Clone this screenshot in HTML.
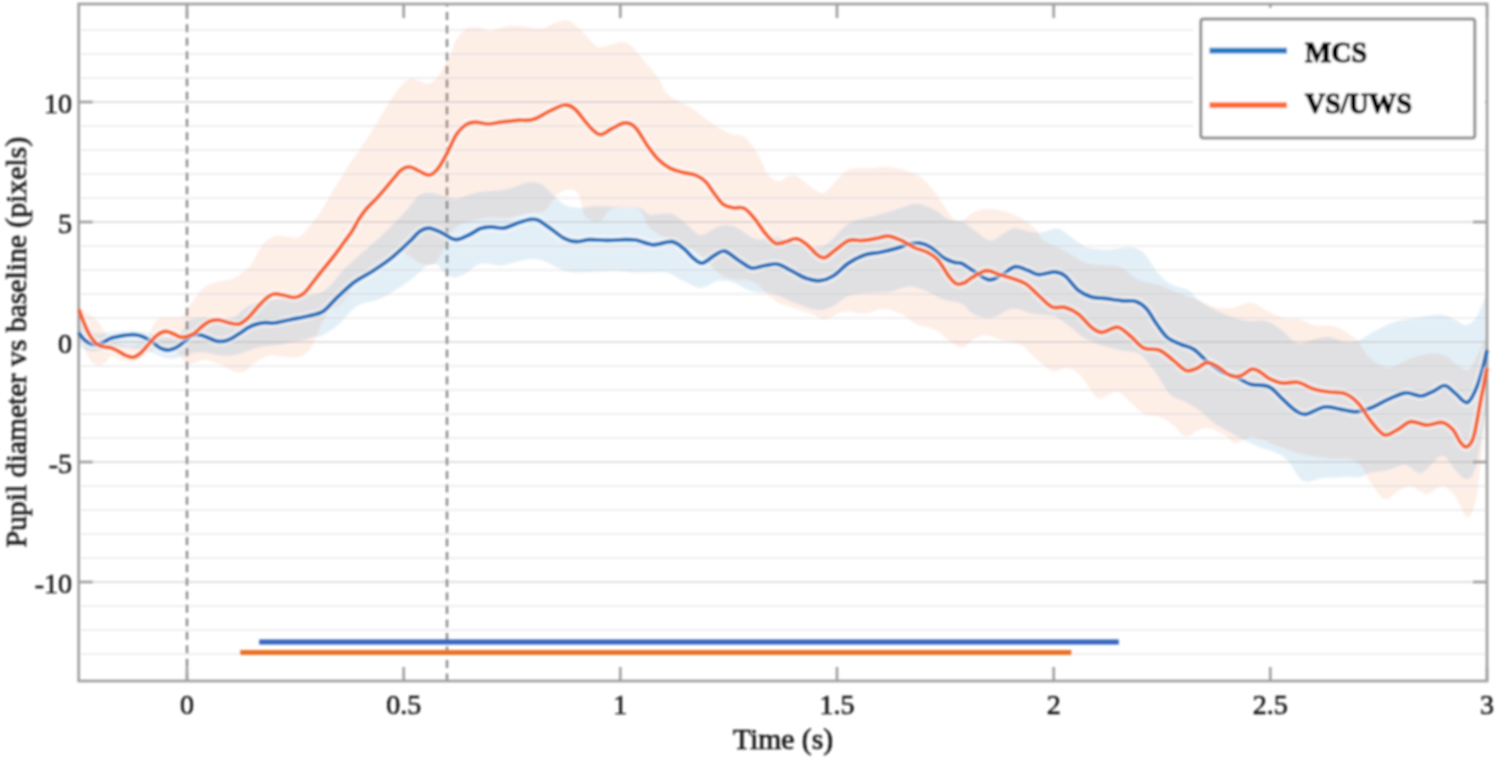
<!DOCTYPE html>
<html><head><meta charset="utf-8"><style>
html,body{margin:0;padding:0;background:#fff;}
svg{display:block;}
text{font-family:"Liberation Serif",serif;}
</style></head><body>
<svg width="1498" height="761" viewBox="0 0 1498 761">
<defs>
<clipPath id="ax2"><rect x="80.2" y="5.5" width="1405.3" height="674"/></clipPath>
<clipPath id="ax"><rect x="78.7" y="4" width="1408.3" height="677"/></clipPath>
<filter id="bl" x="-5%" y="-5%" width="110%" height="110%"><feGaussianBlur stdDeviation="0.85"/></filter>
</defs>
<rect width="1498" height="761" fill="#fff"/>
<g filter="url(#bl)">
<g><line x1="78.7" x2="1487" y1="654" y2="654" stroke="#eaeaea" stroke-width="1.6"/>
<line x1="78.7" x2="1487" y1="630" y2="630" stroke="#eaeaea" stroke-width="1.6"/>
<line x1="78.7" x2="1487" y1="606" y2="606" stroke="#eaeaea" stroke-width="1.6"/>
<line x1="78.7" x2="1487" y1="582" y2="582" stroke="#d6d6d6" stroke-width="1.7"/>
<line x1="78.7" x2="1487" y1="558" y2="558" stroke="#eaeaea" stroke-width="1.6"/>
<line x1="78.7" x2="1487" y1="534" y2="534" stroke="#eaeaea" stroke-width="1.6"/>
<line x1="78.7" x2="1487" y1="510" y2="510" stroke="#eaeaea" stroke-width="1.6"/>
<line x1="78.7" x2="1487" y1="486" y2="486" stroke="#eaeaea" stroke-width="1.6"/>
<line x1="78.7" x2="1487" y1="462" y2="462" stroke="#d6d6d6" stroke-width="1.7"/>
<line x1="78.7" x2="1487" y1="438" y2="438" stroke="#eaeaea" stroke-width="1.6"/>
<line x1="78.7" x2="1487" y1="414" y2="414" stroke="#eaeaea" stroke-width="1.6"/>
<line x1="78.7" x2="1487" y1="390" y2="390" stroke="#eaeaea" stroke-width="1.6"/>
<line x1="78.7" x2="1487" y1="366" y2="366" stroke="#eaeaea" stroke-width="1.6"/>
<line x1="78.7" x2="1487" y1="342" y2="342" stroke="#d6d6d6" stroke-width="1.7"/>
<line x1="78.7" x2="1487" y1="318" y2="318" stroke="#eaeaea" stroke-width="1.6"/>
<line x1="78.7" x2="1487" y1="294" y2="294" stroke="#eaeaea" stroke-width="1.6"/>
<line x1="78.7" x2="1487" y1="270" y2="270" stroke="#eaeaea" stroke-width="1.6"/>
<line x1="78.7" x2="1487" y1="246" y2="246" stroke="#eaeaea" stroke-width="1.6"/>
<line x1="78.7" x2="1487" y1="222" y2="222" stroke="#d6d6d6" stroke-width="1.7"/>
<line x1="78.7" x2="1487" y1="198" y2="198" stroke="#eaeaea" stroke-width="1.6"/>
<line x1="78.7" x2="1487" y1="174" y2="174" stroke="#eaeaea" stroke-width="1.6"/>
<line x1="78.7" x2="1487" y1="150" y2="150" stroke="#eaeaea" stroke-width="1.6"/>
<line x1="78.7" x2="1487" y1="126" y2="126" stroke="#eaeaea" stroke-width="1.6"/>
<line x1="78.7" x2="1487" y1="102" y2="102" stroke="#d6d6d6" stroke-width="1.7"/>
<line x1="78.7" x2="1487" y1="78" y2="78" stroke="#eaeaea" stroke-width="1.6"/>
<line x1="78.7" x2="1487" y1="54" y2="54" stroke="#eaeaea" stroke-width="1.6"/>
<line x1="78.7" x2="1487" y1="30" y2="30" stroke="#eaeaea" stroke-width="1.6"/></g>
<g stroke="#8a8a8a" stroke-width="2.4" stroke-dasharray="8 5.5">
<line x1="187" x2="187" y1="4" y2="681" stroke-dashoffset="6.8"/>
<line x1="447" x2="447" y1="4" y2="681" stroke-dashoffset="5.5"/>
</g>
<g clip-path="url(#ax)">
<path d="M79.0,306.0C80.5,307.3 84.8,311.2 87.8,313.6C90.8,316.1 94.1,317.1 97.3,320.7C100.5,324.3 103.9,331.6 106.7,335.0C109.5,338.4 111.5,339.3 114.0,341.0C116.5,342.7 119.0,344.2 122.0,345.0C125.0,345.8 128.8,346.3 132.0,346.0C135.2,345.7 138.3,344.5 141.0,343.0C143.7,341.5 146.1,339.7 148.0,337.0C149.9,334.3 150.7,330.1 152.5,327.0C154.3,323.9 155.9,320.1 158.8,318.5C161.7,316.9 166.1,317.8 170.0,317.5C173.9,317.2 179.3,318.6 182.4,317.0C185.5,315.4 186.3,310.6 188.3,307.7C190.3,304.8 191.5,302.9 194.2,299.5C196.9,296.1 200.4,290.3 204.5,287.3C208.6,284.3 214.1,283.0 218.9,281.6C223.7,280.2 229.3,280.4 233.4,278.7C237.5,277.0 240.6,273.7 243.5,271.4C246.4,269.1 247.5,269.3 250.9,264.7C254.3,260.1 259.6,248.4 264.0,243.6C268.4,238.8 272.4,236.7 277.2,235.8C282.0,234.9 289.2,237.9 293.0,238.0C296.8,238.1 297.8,237.7 300.0,236.5C302.2,235.3 304.1,233.1 306.0,231.0C307.9,228.9 309.0,227.3 311.5,224.1C314.0,220.8 318.4,215.4 321.0,211.5C323.6,207.6 325.2,204.2 327.3,200.5C329.4,196.8 331.5,192.9 333.6,189.5C335.7,186.1 337.7,183.6 339.9,180.0C342.1,176.4 344.0,172.7 347.0,168.0C350.0,163.3 354.2,157.7 358.0,152.0C361.8,146.3 365.8,140.5 370.0,134.0C374.2,127.5 378.6,120.0 383.0,113.0C387.4,106.0 391.9,97.7 396.3,92.0C400.7,86.3 405.9,80.8 409.4,78.8C412.9,76.8 414.2,79.1 417.3,80.0C420.4,80.9 424.3,84.6 427.8,84.0C431.3,83.4 434.8,80.6 438.3,76.2C441.8,71.8 445.7,63.9 448.8,57.8C451.9,51.7 453.9,44.2 456.7,39.4C459.5,34.6 462.4,30.9 465.9,28.9C469.4,26.9 473.5,27.2 477.7,27.6C481.9,28.0 486.0,31.2 490.8,31.0C495.6,30.8 501.4,27.1 506.6,26.3C511.9,25.5 516.6,25.9 522.3,26.3C528.0,26.7 535.4,29.3 540.7,28.9C546.0,28.4 549.5,25.0 553.9,23.6C558.3,22.2 562.6,19.6 567.0,20.5C571.4,21.4 575.3,24.6 580.1,28.9C584.9,33.1 591.5,43.1 595.9,46.0C600.3,48.9 602.0,46.7 606.4,46.0C610.8,45.3 617.8,41.8 622.2,42.0C626.6,42.2 628.8,43.8 632.7,47.3C636.6,50.8 641.4,57.8 645.8,63.0C650.2,68.2 655.2,73.5 658.9,78.8C662.6,84.1 662.6,90.2 668.0,95.0C673.4,99.8 683.9,103.1 691.3,107.9C698.7,112.7 705.7,119.2 712.3,123.6C718.9,128.0 725.5,131.9 730.7,134.1C736.0,136.3 739.4,133.7 743.8,136.8C748.2,139.9 753.0,146.4 756.9,152.5C760.8,158.6 763.9,168.7 767.4,173.5C770.9,178.3 773.6,181.2 778.0,181.4C782.4,181.6 788.9,174.5 793.7,174.9C798.5,175.3 802.0,180.9 806.8,184.0C811.6,187.1 817.8,193.6 822.6,193.2C827.4,192.8 831.3,185.3 835.7,181.4C840.1,177.5 843.2,171.8 848.9,169.6C854.6,167.4 863.3,168.7 869.9,168.3C876.5,167.9 880.9,166.1 888.3,167.0C895.7,167.9 907.5,170.2 914.5,173.5C921.5,176.8 925.5,181.4 930.3,186.7C935.1,191.9 939.5,199.5 943.4,205.0C947.3,210.5 950.8,216.8 953.9,219.5C957.0,222.2 958.8,222.1 962.0,221.0C965.2,219.9 969.1,214.8 973.1,212.8C977.1,210.8 981.0,209.1 986.3,208.9C991.6,208.7 998.6,209.8 1004.7,211.5C1010.8,213.2 1017.8,216.3 1023.0,219.4C1028.2,222.5 1032.7,226.4 1036.2,229.9C1039.7,233.4 1039.2,236.9 1044.0,240.4C1048.8,243.9 1058.1,247.2 1065.1,250.9C1072.1,254.6 1079.4,260.3 1086.0,262.7C1092.6,265.1 1098.8,264.7 1104.5,265.4C1110.2,266.1 1114.5,264.3 1120.2,266.7C1125.9,269.1 1132.0,276.7 1138.6,279.8C1145.2,282.9 1153.0,282.9 1159.6,285.1C1166.2,287.3 1171.8,290.6 1178.0,293.0C1184.2,295.4 1191.0,297.5 1197.0,299.8C1203.0,302.1 1208.0,305.3 1213.8,306.7C1219.6,308.1 1226.0,308.7 1232.1,308.0C1238.2,307.3 1244.8,302.3 1250.5,302.7C1256.2,303.1 1260.6,308.0 1266.3,310.6C1272.0,313.2 1279.5,317.2 1284.7,318.5C1290.0,319.8 1293.0,317.4 1297.8,318.5C1302.6,319.6 1307.5,323.8 1313.6,325.1C1319.7,326.4 1328.9,325.1 1334.6,326.4C1340.3,327.7 1343.8,330.4 1347.7,333.0C1351.6,335.6 1354.7,338.2 1358.2,342.1C1361.7,346.0 1364.8,352.7 1368.7,356.6C1372.7,360.6 1378.0,364.1 1381.9,365.8C1385.9,367.6 1388.0,368.2 1392.4,367.1C1396.8,366.0 1402.4,361.4 1408.1,359.2C1413.8,357.0 1420.4,354.6 1426.5,354.0C1432.6,353.4 1439.7,353.3 1444.9,355.3C1450.2,357.3 1454.0,363.4 1458.0,365.8C1462.0,368.2 1465.5,371.2 1468.6,369.7C1471.7,368.2 1473.6,361.7 1476.4,356.6C1479.2,351.5 1484.1,342.1 1485.7,339.2L1487.0,390.0C1486.3,398.1 1484.8,421.0 1483.0,438.8C1481.2,456.6 1479.0,483.5 1476.4,496.6C1473.8,509.7 1470.7,517.6 1467.2,517.6C1463.7,517.6 1459.6,501.9 1455.4,496.6C1451.2,491.4 1447.1,486.5 1442.3,486.1C1437.5,485.7 1431.8,494.0 1426.5,494.0C1421.2,494.0 1415.6,486.6 1410.8,486.1C1406.0,485.7 1402.0,489.1 1397.6,491.3C1393.2,493.5 1388.9,500.5 1384.5,499.2C1380.1,497.9 1376.2,489.9 1371.4,483.5C1366.6,477.1 1362.6,465.3 1355.6,461.1C1348.6,456.9 1338.0,459.6 1329.3,458.5C1320.5,457.4 1311.8,456.7 1303.1,454.6C1294.3,452.5 1283.6,448.5 1276.8,446.0C1270.0,443.5 1266.5,441.0 1262.0,439.5C1257.5,438.0 1254.4,436.4 1250.0,437.0C1245.6,437.6 1239.9,443.2 1235.8,443.0C1231.7,442.8 1229.2,438.3 1225.3,436.0C1221.4,433.7 1216.4,430.2 1212.2,429.0C1208.0,427.8 1204.4,427.8 1200.0,429.0C1195.6,430.2 1190.4,437.1 1185.9,436.4C1181.4,435.7 1177.2,427.9 1172.8,424.6C1168.4,421.3 1164.4,418.4 1159.6,416.7C1154.8,414.9 1148.7,416.5 1143.9,414.1C1139.1,411.7 1135.1,405.9 1130.7,402.2C1126.3,398.5 1121.5,392.8 1117.6,391.7C1113.7,390.6 1110.6,394.8 1107.1,395.7C1103.6,396.6 1101.0,400.3 1096.6,397.0C1092.2,393.7 1085.6,380.8 1080.8,376.0C1076.0,371.2 1072.5,369.0 1067.7,368.1C1062.9,367.2 1057.6,372.7 1051.9,370.7C1046.2,368.7 1038.8,360.7 1033.5,356.3C1028.2,351.9 1026.1,347.2 1020.4,344.4C1014.7,341.5 1005.1,340.7 999.4,339.2C993.7,337.7 990.7,335.3 986.3,335.3C981.9,335.3 977.1,337.2 973.1,339.2C969.1,341.2 966.1,347.3 962.0,347.5C957.9,347.7 953.1,343.2 948.7,340.3C944.3,337.4 940.9,332.4 935.6,329.8C930.4,327.2 922.9,327.2 917.2,324.6C911.5,322.0 907.1,316.6 901.4,314.0C895.7,311.4 889.1,308.9 883.0,308.8C876.9,308.7 871.2,313.1 864.6,313.5C858.0,313.9 850.2,310.4 843.6,311.4C837.0,312.4 830.5,318.9 825.2,319.3C820.0,319.7 816.9,315.8 812.1,314.0C807.3,312.2 802.0,310.8 796.3,308.8C790.6,306.8 783.2,305.0 778.0,302.2C772.8,299.4 768.7,295.1 765.0,292.0C761.3,288.9 759.3,285.5 756.0,283.5C752.7,281.5 749.3,280.8 745.0,280.0C740.7,279.2 734.5,280.2 730.0,279.0C725.5,277.8 722.8,276.4 717.9,272.5C713.0,268.6 706.5,260.0 700.8,255.4C695.1,250.8 689.4,247.9 683.7,245.1C678.0,242.2 672.3,241.2 666.6,238.3C660.9,235.5 654.0,232.7 649.6,228.0C645.2,223.3 644.1,213.5 640.0,210.0C635.9,206.5 630.0,207.0 625.0,207.0C620.0,207.0 614.2,207.7 610.0,210.0C605.8,212.3 604.2,220.0 600.0,221.0C595.8,222.0 588.7,220.7 585.0,216.0C581.3,211.3 581.3,197.3 578.0,193.0C574.7,188.7 568.8,189.3 565.0,190.0C561.2,190.7 558.3,193.5 555.0,197.0C551.7,200.5 549.2,208.3 545.0,211.0C540.8,213.7 536.4,211.8 530.0,213.0C523.6,214.2 513.3,217.3 506.6,218.1C499.9,218.9 497.0,216.8 490.0,217.6C483.0,218.4 471.2,220.6 464.8,223.1C458.4,225.6 455.6,227.7 451.9,232.3C448.2,236.9 445.8,245.3 442.7,250.7C439.6,256.1 437.5,262.5 433.5,264.5C429.5,266.5 423.7,264.5 418.8,262.7C413.9,260.9 408.6,254.0 404.0,253.5C399.4,253.0 396.4,256.7 391.2,259.9C386.0,263.1 378.9,268.5 372.8,272.8C366.7,277.1 359.6,280.6 354.4,285.7C349.2,290.8 346.3,298.6 341.8,303.2C337.3,307.8 331.7,307.6 327.3,313.4C322.9,319.2 318.8,331.6 315.7,337.9C312.6,344.1 311.4,347.8 308.5,350.9C305.6,354.0 302.5,355.7 298.4,356.7C294.3,357.7 288.7,356.9 283.9,356.7C279.1,356.5 274.3,354.3 269.5,355.3C264.7,356.3 259.1,359.9 255.0,362.5C250.9,365.1 248.5,369.8 244.9,371.2C241.3,372.6 237.7,372.4 233.4,371.2C229.1,370.0 223.7,365.9 218.9,364.0C214.1,362.1 209.6,359.5 204.5,359.6C199.4,359.7 192.4,365.3 188.3,364.5C184.2,363.7 182.7,357.6 180.0,355.0C177.3,352.4 175.0,350.1 172.0,349.0C169.0,347.9 165.3,348.3 162.0,348.5C158.7,348.7 154.8,348.8 152.0,350.0C149.2,351.2 147.8,354.0 145.0,356.0C142.2,358.0 138.7,361.2 135.0,362.0C131.3,362.8 126.9,362.0 123.0,361.0C119.1,360.0 114.6,355.6 111.5,356.0C108.4,356.4 106.8,361.7 104.4,363.3C102.0,364.9 100.1,366.9 97.3,365.7C94.5,364.5 90.8,362.1 87.8,356.2C84.8,350.2 80.5,334.4 79.0,330.0Z" fill="#ee712f" fill-opacity="0.12"/>
<path d="M79.0,313.0C80.0,314.5 82.3,318.7 85.0,322.0C87.7,325.3 90.8,331.3 95.0,333.0C99.2,334.7 104.2,332.4 110.0,332.0C115.8,331.6 124.2,330.5 130.0,330.5C135.8,330.5 140.8,331.2 145.0,332.0C149.2,332.8 151.7,334.2 155.0,335.0C158.3,335.8 161.7,336.8 165.0,337.0C168.3,337.2 172.0,337.2 175.0,336.0C178.0,334.8 180.5,332.7 183.0,330.0C185.5,327.3 186.4,322.1 190.0,320.0C193.6,317.9 199.7,317.9 204.5,317.7C209.3,317.5 214.1,319.0 218.9,319.0C223.7,319.0 229.6,319.1 233.4,317.7C237.2,316.3 239.1,312.7 242.0,310.5C244.9,308.3 247.3,306.3 250.7,304.7C254.1,303.1 258.0,302.1 262.3,301.1C266.6,300.1 271.9,299.6 276.7,298.9C281.5,298.2 286.4,297.3 291.2,296.7C296.0,296.1 300.8,295.9 305.6,295.3C310.4,294.7 315.7,294.9 320.0,293.0C324.3,291.1 327.9,287.7 331.6,284.0C335.3,280.3 338.2,275.3 342.3,271.0C346.4,266.7 351.4,262.2 356.0,258.0C360.6,253.8 365.6,249.8 369.9,246.0C374.2,242.2 378.1,238.7 382.0,235.0C385.9,231.3 389.3,228.1 393.6,223.7C397.9,219.3 403.6,213.1 407.8,208.4C412.0,203.7 415.1,198.1 418.8,195.5C422.5,192.9 425.8,192.8 429.8,192.8C433.8,192.8 438.4,194.4 442.7,195.5C447.0,196.6 451.6,199.2 455.6,199.2C459.6,199.2 462.3,196.7 466.6,195.5C470.9,194.3 474.7,192.9 481.4,191.8C488.1,190.8 498.9,190.7 506.6,189.2C514.3,187.7 521.9,183.5 527.6,182.6C533.3,181.7 537.5,183.0 540.7,184.0C544.0,185.0 544.6,186.6 547.1,188.8C549.6,191.0 552.6,194.6 555.6,197.3C558.6,200.0 560.9,203.2 565.0,205.0C569.1,206.8 575.0,207.8 580.0,208.0C585.0,208.2 590.0,206.2 595.0,206.0C600.0,205.8 605.0,206.6 610.0,206.7C615.0,206.8 620.0,206.5 625.0,206.7C630.0,206.9 635.9,206.7 640.0,208.0C644.1,209.3 645.2,213.5 649.6,214.4C654.0,215.3 662.3,213.4 666.6,213.6C670.9,213.8 671.8,213.5 675.5,215.6C679.2,217.7 684.4,222.9 688.6,226.1C692.8,229.3 695.9,234.8 700.8,234.9C705.7,235.0 713.0,228.0 717.9,226.4C722.8,224.8 726.6,225.1 730.0,225.5C733.4,225.9 734.0,226.4 738.5,228.7C743.0,231.0 750.8,237.9 756.9,239.2C763.0,240.5 768.7,235.9 775.3,236.6C781.9,237.3 789.7,241.4 796.3,243.2C802.9,244.9 809.4,247.1 814.7,247.1C820.0,247.1 822.2,247.1 827.9,243.2C833.6,239.3 841.0,228.1 848.9,223.5C856.8,218.9 866.4,218.2 875.1,215.6C883.9,213.0 894.4,209.7 901.4,207.7C908.4,205.7 911.5,203.4 917.2,203.8C922.9,204.2 930.4,207.7 935.6,210.3C940.9,212.9 944.3,217.6 948.7,219.5C953.1,221.4 957.5,219.6 962.0,221.5C966.5,223.4 970.9,228.0 975.8,231.2C980.7,234.3 985.4,240.8 991.5,240.4C997.6,240.0 1006.4,230.1 1012.5,228.6C1018.6,227.1 1023.5,230.5 1028.3,231.2C1033.1,231.8 1036.6,232.9 1041.4,232.5C1046.2,232.1 1052.4,227.9 1057.2,228.6C1062.0,229.3 1065.5,233.4 1070.3,236.5C1075.1,239.6 1079.9,244.8 1086.0,247.0C1092.1,249.2 1099.6,249.6 1107.1,249.6C1114.5,249.6 1124.6,246.3 1130.7,247.0C1136.8,247.7 1139.5,249.3 1143.9,253.5C1148.3,257.6 1152.6,266.8 1157.0,271.9C1161.4,276.9 1164.8,280.7 1170.1,283.8C1175.3,286.9 1183.8,287.7 1188.5,290.3C1193.2,292.9 1193.8,296.3 1198.0,299.5C1202.2,302.7 1208.1,306.4 1213.8,309.3C1219.5,312.2 1226.0,315.2 1232.1,317.2C1238.2,319.2 1244.8,320.5 1250.5,321.1C1256.2,321.8 1261.0,319.6 1266.3,321.1C1271.5,322.6 1276.8,326.6 1282.0,330.3C1287.2,334.0 1292.5,342.0 1297.8,343.5C1303.1,345.0 1308.3,340.6 1313.6,339.5C1318.8,338.4 1324.1,336.5 1329.3,336.9C1334.5,337.3 1340.2,341.5 1345.0,342.1C1349.8,342.8 1352.7,342.8 1358.0,340.8C1363.3,338.8 1370.0,333.6 1376.6,330.3C1383.2,327.0 1390.1,323.3 1397.6,321.1C1405.0,318.9 1414.3,318.3 1421.3,317.2C1428.3,316.1 1434.5,314.4 1439.7,314.6C1445.0,314.8 1448.4,316.8 1452.8,318.5C1457.2,320.2 1462.0,325.3 1465.9,325.1C1469.8,324.9 1473.1,322.1 1476.4,317.2C1479.7,312.3 1484.1,299.3 1485.7,295.7L1485.7,412.9C1484.1,421.6 1479.5,454.0 1476.4,465.1C1473.3,476.2 1470.7,478.6 1467.2,479.5C1463.7,480.4 1459.6,474.2 1455.4,470.3C1451.2,466.4 1447.7,455.6 1442.0,456.0C1436.3,456.4 1427.4,471.5 1421.3,473.0C1415.2,474.5 1411.2,465.6 1405.5,465.1C1399.8,464.7 1393.2,469.0 1387.1,470.3C1381.0,471.6 1373.1,471.9 1368.7,473.0C1364.3,474.1 1365.3,476.2 1360.9,476.9C1356.5,477.5 1349.1,476.7 1342.5,476.9C1335.9,477.1 1328.1,477.5 1321.5,478.2C1314.9,478.9 1308.8,483.9 1303.1,480.8C1297.4,477.7 1292.1,464.6 1287.3,459.8C1282.5,455.0 1278.2,454.0 1274.0,452.0C1269.8,450.0 1265.9,449.5 1262.0,448.0C1258.1,446.5 1255.5,445.4 1250.5,443.0C1245.5,440.6 1238.2,436.8 1232.1,433.5C1226.0,430.2 1218.9,426.6 1213.8,423.0C1208.7,419.4 1206.3,415.5 1201.7,412.0C1197.1,408.5 1191.2,405.1 1185.9,402.2C1180.6,399.3 1174.9,399.0 1170.1,394.4C1165.3,389.8 1160.5,379.8 1157.0,374.7C1153.5,369.6 1152.2,367.4 1149.1,363.9C1146.0,360.3 1143.0,355.6 1138.6,353.4C1134.2,351.2 1129.0,352.0 1122.9,350.7C1116.8,349.4 1108.4,347.7 1101.8,345.5C1095.2,343.3 1088.8,340.7 1083.5,337.6C1078.2,334.5 1075.1,330.6 1070.3,327.1C1065.5,323.6 1060.7,318.8 1054.6,316.6C1048.5,314.4 1040.5,315.3 1033.5,314.0C1026.5,312.7 1019.5,308.1 1012.5,308.7C1005.5,309.3 998.1,317.0 991.5,317.9C984.9,318.8 978.0,316.3 973.1,314.0C968.2,311.7 967.0,306.4 962.0,304.0C957.0,301.6 949.1,301.7 943.4,299.6C937.7,297.6 933.4,293.9 927.7,291.7C922.0,289.5 915.4,286.5 909.3,286.5C903.2,286.5 897.5,290.6 890.9,291.7C884.3,292.8 876.9,292.3 869.9,293.0C862.9,293.7 855.0,293.5 848.9,295.7C842.8,297.9 838.4,303.8 833.1,306.2C827.9,308.6 823.5,310.6 817.4,310.1C811.3,309.7 803.3,306.1 796.3,303.5C789.3,300.9 781.0,296.1 775.3,294.4C769.6,292.6 766.6,293.7 762.2,293.0C757.8,292.3 753.9,292.1 749.1,290.4C744.3,288.6 738.6,284.1 733.3,282.5C728.0,280.9 722.9,280.1 717.5,281.0C712.1,281.9 706.4,287.8 700.8,287.8C695.2,287.8 689.4,283.6 683.7,281.0C678.0,278.4 672.3,273.9 666.6,272.5C660.9,271.1 655.3,272.5 649.6,272.5C643.9,272.5 638.2,272.8 632.5,272.5C626.8,272.2 621.1,270.9 615.4,270.8C609.7,270.7 604.0,271.3 598.3,271.6C592.6,271.9 586.9,272.6 581.2,272.5C575.5,272.4 569.9,272.5 564.2,270.8C558.5,269.1 552.3,264.2 547.1,262.2C541.9,260.2 537.9,258.9 532.9,258.8C527.9,258.7 522.4,260.3 517.1,261.4C511.8,262.5 507.2,265.0 501.3,265.4C495.4,265.8 487.2,262.4 481.4,263.6C475.6,264.8 471.2,270.5 466.6,272.8C462.0,275.1 457.8,277.7 453.8,277.4C449.8,277.1 445.5,273.1 442.7,271.0C439.9,268.9 439.4,265.5 437.0,264.5C434.6,263.5 430.9,263.8 428.0,265.0C425.1,266.2 422.9,269.4 419.8,272.0C416.7,274.6 412.8,277.8 409.3,280.5C405.8,283.2 402.5,285.6 398.8,288.0C395.1,290.4 390.9,293.0 387.2,295.0C383.5,297.0 380.5,298.7 376.7,300.0C372.9,301.3 367.8,301.8 364.1,303.0C360.4,304.2 358.2,304.7 354.7,307.5C351.2,310.3 346.4,316.6 343.0,320.0C339.6,323.4 338.3,325.1 334.5,327.8C330.7,330.6 323.4,335.1 320.0,336.5C316.6,337.9 316.7,336.0 314.3,336.5C311.9,337.0 309.5,338.4 305.6,339.4C301.8,340.4 296.0,341.3 291.2,342.3C286.4,343.3 281.5,344.5 276.7,345.2C271.9,345.9 267.1,345.7 262.3,346.6C257.5,347.6 252.6,349.4 247.8,350.9C243.0,352.3 238.2,354.6 233.4,355.3C228.6,356.0 223.7,355.8 218.9,355.3C214.1,354.8 209.3,352.6 204.5,352.4C199.7,352.1 194.1,353.0 190.0,353.8C185.9,354.6 183.3,356.2 180.0,357.0C176.7,357.8 173.3,358.8 170.0,358.6C166.7,358.4 163.3,357.1 160.0,356.0C156.7,354.9 155.0,353.3 150.0,352.0C145.0,350.7 135.8,348.7 130.0,348.0C124.2,347.3 119.2,347.7 115.0,348.0C110.8,348.3 108.3,349.4 105.0,350.0C101.7,350.6 98.3,351.5 95.0,351.5C91.7,351.5 87.7,351.1 85.0,350.0C82.3,348.9 80.0,345.8 79.0,345.0Z" fill="#3e94ca" fill-opacity="0.15"/>
</g>
<line x1="259.2" x2="1118.8" y1="642.1" y2="642.1" stroke="#3465be" stroke-width="5"/>
<line x1="240.1" x2="1071.4" y1="652.5" y2="652.5" stroke="#ea7222" stroke-width="5"/>
<g stroke="#9e9e9e" stroke-width="2.6" fill="none">
<rect x="78.7" y="4" width="1408.3" height="677"/>
<line x1="187.0" x2="187.0" y1="681" y2="667"/>
<line x1="187.0" x2="187.0" y1="4" y2="18"/>
<line x1="403.7" x2="403.7" y1="681" y2="667"/>
<line x1="403.7" x2="403.7" y1="4" y2="18"/>
<line x1="620.3" x2="620.3" y1="681" y2="667"/>
<line x1="620.3" x2="620.3" y1="4" y2="18"/>
<line x1="837.0" x2="837.0" y1="681" y2="667"/>
<line x1="837.0" x2="837.0" y1="4" y2="18"/>
<line x1="1053.7" x2="1053.7" y1="681" y2="667"/>
<line x1="1053.7" x2="1053.7" y1="4" y2="18"/>
<line x1="1270.3" x2="1270.3" y1="681" y2="667"/>
<line x1="1270.3" x2="1270.3" y1="4" y2="18"/>
<line x1="1487.0" x2="1487.0" y1="681" y2="667"/>
<line x1="1487.0" x2="1487.0" y1="4" y2="18"/>
<line x1="78.7" x2="92.7" y1="582" y2="582"/>
<line x1="1487" x2="1473" y1="582" y2="582"/>
<line x1="78.7" x2="92.7" y1="462" y2="462"/>
<line x1="1487" x2="1473" y1="462" y2="462"/>
<line x1="78.7" x2="92.7" y1="222" y2="222"/>
<line x1="1487" x2="1473" y1="222" y2="222"/>
<line x1="78.7" x2="92.7" y1="102" y2="102"/>
<line x1="1487" x2="1473" y1="102" y2="102"/>
</g>
<path clip-path="url(#ax2)" d="M78.7,332.6C79.4,333.6 81.5,336.7 83.1,338.4C84.7,340.1 86.7,341.6 88.4,342.6C90.2,343.6 91.8,344.3 93.6,344.5C95.3,344.7 97.1,344.4 98.9,344.0C100.7,343.6 102.4,342.9 104.2,342.0C106.0,341.1 108.2,339.4 110.0,338.6C111.8,337.8 112.6,337.7 115.0,337.2C117.4,336.7 121.3,335.8 124.4,335.4C127.5,335.0 130.6,334.5 133.7,334.7C136.8,334.9 139.9,335.5 143.0,336.7C146.1,337.9 149.5,340.2 152.4,342.1C155.3,344.0 157.7,346.8 160.4,348.1C163.1,349.4 165.8,350.2 168.5,350.1C171.2,350.0 173.8,348.8 176.5,347.4C179.2,345.9 182.1,343.3 184.5,341.4C186.9,339.5 189.0,337.1 191.2,336.0C193.4,334.9 195.4,334.6 197.8,334.7C200.2,334.8 202.9,335.7 205.8,336.7C208.7,337.7 212.3,339.9 215.2,340.7C218.1,341.5 220.5,341.7 223.2,341.4C225.9,341.1 228.3,340.1 231.2,338.7C234.1,337.2 237.7,334.6 240.6,332.7C243.5,330.8 245.9,328.8 248.6,327.4C251.3,326.0 253.7,324.9 256.6,324.1C259.5,323.3 263.0,322.9 265.9,322.7C268.8,322.5 269.9,323.5 273.9,323.0C277.9,322.5 284.2,320.9 290.0,319.7C295.8,318.5 302.9,317.4 308.4,316.0C313.9,314.6 318.5,314.3 323.1,311.4C327.7,308.5 330.8,303.5 336.0,298.6C341.2,293.7 348.3,286.6 354.4,282.0C360.5,277.4 366.7,275.0 372.8,271.0C378.9,267.0 385.1,263.0 391.2,258.1C397.3,253.2 404.8,246.0 409.6,241.5C414.4,237.0 416.6,233.4 419.9,231.2C423.1,229.0 425.6,227.9 429.1,228.1C432.6,228.3 436.5,230.4 440.9,232.3C445.3,234.2 450.7,239.4 455.6,239.7C460.5,240.0 466.2,236.0 470.3,234.2C474.4,232.3 476.9,229.8 480.3,228.6C483.7,227.4 486.9,226.9 490.8,226.8C494.8,226.7 499.6,228.7 504.0,228.1C508.4,227.5 512.8,224.7 517.1,223.3C521.4,221.9 526.4,220.0 530.0,219.5C533.6,219.0 534.8,218.7 538.5,220.4C542.2,222.1 547.9,226.8 552.2,229.8C556.5,232.8 560.2,236.3 564.2,238.3C568.2,240.3 571.8,241.5 576.1,241.7C580.4,241.9 584.7,239.9 589.8,239.7C594.9,239.5 601.2,240.4 606.9,240.4C612.6,240.4 619.1,239.8 623.9,239.7C628.7,239.6 631.0,239.2 635.9,240.0C640.8,240.8 647.0,244.5 653.0,244.8C659.0,245.1 666.7,241.1 671.8,241.7C676.9,242.3 680.0,245.8 683.7,248.6C687.4,251.4 690.9,256.4 694.0,258.8C697.1,261.2 699.1,263.7 702.5,263.1C705.9,262.5 710.8,257.4 714.5,255.4C718.2,253.4 720.7,250.3 724.7,251.1C728.7,251.9 734.0,257.4 738.5,260.2C743.0,263.0 747.3,267.2 751.7,268.1C756.1,269.0 760.4,266.1 764.8,265.5C769.2,264.9 773.5,263.3 777.9,264.2C782.3,265.1 786.3,268.3 791.1,270.7C795.9,273.1 802.0,276.9 806.8,278.6C811.6,280.3 815.6,281.1 820.0,280.7C824.4,280.3 828.3,279.0 833.1,276.0C837.9,273.0 843.6,266.4 848.9,262.9C854.1,259.4 859.4,256.8 864.6,255.0C869.9,253.2 875.1,253.4 880.4,252.3C885.7,251.2 891.4,249.8 896.2,248.4C901.0,247.0 905.4,244.8 909.3,243.9C913.2,243.0 916.3,242.7 919.8,243.2C923.3,243.7 926.4,244.7 930.3,247.1C934.2,249.5 939.5,255.1 943.4,257.6C947.3,260.1 950.8,261.3 953.9,262.3C957.0,263.3 958.8,262.1 962.0,263.5C965.2,264.9 968.6,267.9 973.1,270.6C977.6,273.3 984.1,279.1 988.9,279.8C993.7,280.5 997.6,276.8 1002.0,274.6C1006.4,272.4 1010.8,267.4 1015.2,266.7C1019.6,266.0 1024.4,269.3 1028.3,270.6C1032.2,271.9 1034.4,274.4 1038.8,274.6C1043.2,274.8 1050.2,271.7 1054.6,271.9C1059.0,272.1 1061.2,272.8 1065.1,275.9C1069.0,279.0 1073.8,286.8 1078.2,290.3C1082.6,293.8 1086.5,295.5 1091.3,296.9C1096.1,298.3 1101.8,298.0 1107.1,298.7C1112.4,299.4 1118.1,300.4 1122.9,300.8C1127.7,301.2 1132.1,300.1 1136.0,301.4C1139.9,302.7 1143.0,304.8 1146.5,308.7C1150.0,312.6 1153.5,319.7 1157.0,324.5C1160.5,329.3 1163.6,334.3 1167.5,337.6C1171.4,340.9 1176.2,342.2 1180.6,344.2C1185.0,346.2 1189.4,346.6 1193.8,349.4C1198.2,352.2 1202.3,357.5 1206.9,361.2C1211.5,364.9 1216.9,369.3 1221.6,371.8C1226.2,374.3 1230.0,374.2 1234.8,376.3C1239.6,378.4 1244.8,382.4 1250.5,384.2C1256.2,385.9 1263.6,384.4 1268.9,386.8C1274.2,389.2 1277.7,394.7 1282.1,398.6C1286.5,402.5 1291.3,407.8 1295.2,410.4C1299.1,413.0 1300.9,415.0 1305.7,414.4C1310.5,413.8 1318.4,407.9 1324.1,407.0C1329.8,406.1 1334.5,408.3 1339.8,409.1C1345.0,409.9 1350.3,412.0 1355.6,411.8C1360.9,411.6 1366.2,409.8 1371.4,407.8C1376.7,405.8 1381.4,402.4 1387.1,399.9C1392.8,397.4 1399.8,393.4 1405.5,392.8C1411.2,392.2 1416.5,396.4 1421.3,396.0C1426.1,395.6 1430.5,392.4 1434.4,390.7C1438.3,388.9 1441.4,385.1 1444.9,385.5C1448.4,385.9 1451.7,390.5 1455.4,393.4C1459.1,396.2 1463.7,403.5 1467.2,402.6C1470.7,401.7 1473.8,394.0 1476.4,388.1C1479.0,382.2 1481.2,373.5 1483.0,367.1C1484.8,360.8 1486.3,352.9 1487.0,350.0" fill="none" stroke="#fff" stroke-opacity="0.5" stroke-width="8" stroke-linejoin="round"/>
<path d="M78.7,332.6C79.4,333.6 81.5,336.7 83.1,338.4C84.7,340.1 86.7,341.6 88.4,342.6C90.2,343.6 91.8,344.3 93.6,344.5C95.3,344.7 97.1,344.4 98.9,344.0C100.7,343.6 102.4,342.9 104.2,342.0C106.0,341.1 108.2,339.4 110.0,338.6C111.8,337.8 112.6,337.7 115.0,337.2C117.4,336.7 121.3,335.8 124.4,335.4C127.5,335.0 130.6,334.5 133.7,334.7C136.8,334.9 139.9,335.5 143.0,336.7C146.1,337.9 149.5,340.2 152.4,342.1C155.3,344.0 157.7,346.8 160.4,348.1C163.1,349.4 165.8,350.2 168.5,350.1C171.2,350.0 173.8,348.8 176.5,347.4C179.2,345.9 182.1,343.3 184.5,341.4C186.9,339.5 189.0,337.1 191.2,336.0C193.4,334.9 195.4,334.6 197.8,334.7C200.2,334.8 202.9,335.7 205.8,336.7C208.7,337.7 212.3,339.9 215.2,340.7C218.1,341.5 220.5,341.7 223.2,341.4C225.9,341.1 228.3,340.1 231.2,338.7C234.1,337.2 237.7,334.6 240.6,332.7C243.5,330.8 245.9,328.8 248.6,327.4C251.3,326.0 253.7,324.9 256.6,324.1C259.5,323.3 263.0,322.9 265.9,322.7C268.8,322.5 269.9,323.5 273.9,323.0C277.9,322.5 284.2,320.9 290.0,319.7C295.8,318.5 302.9,317.4 308.4,316.0C313.9,314.6 318.5,314.3 323.1,311.4C327.7,308.5 330.8,303.5 336.0,298.6C341.2,293.7 348.3,286.6 354.4,282.0C360.5,277.4 366.7,275.0 372.8,271.0C378.9,267.0 385.1,263.0 391.2,258.1C397.3,253.2 404.8,246.0 409.6,241.5C414.4,237.0 416.6,233.4 419.9,231.2C423.1,229.0 425.6,227.9 429.1,228.1C432.6,228.3 436.5,230.4 440.9,232.3C445.3,234.2 450.7,239.4 455.6,239.7C460.5,240.0 466.2,236.0 470.3,234.2C474.4,232.3 476.9,229.8 480.3,228.6C483.7,227.4 486.9,226.9 490.8,226.8C494.8,226.7 499.6,228.7 504.0,228.1C508.4,227.5 512.8,224.7 517.1,223.3C521.4,221.9 526.4,220.0 530.0,219.5C533.6,219.0 534.8,218.7 538.5,220.4C542.2,222.1 547.9,226.8 552.2,229.8C556.5,232.8 560.2,236.3 564.2,238.3C568.2,240.3 571.8,241.5 576.1,241.7C580.4,241.9 584.7,239.9 589.8,239.7C594.9,239.5 601.2,240.4 606.9,240.4C612.6,240.4 619.1,239.8 623.9,239.7C628.7,239.6 631.0,239.2 635.9,240.0C640.8,240.8 647.0,244.5 653.0,244.8C659.0,245.1 666.7,241.1 671.8,241.7C676.9,242.3 680.0,245.8 683.7,248.6C687.4,251.4 690.9,256.4 694.0,258.8C697.1,261.2 699.1,263.7 702.5,263.1C705.9,262.5 710.8,257.4 714.5,255.4C718.2,253.4 720.7,250.3 724.7,251.1C728.7,251.9 734.0,257.4 738.5,260.2C743.0,263.0 747.3,267.2 751.7,268.1C756.1,269.0 760.4,266.1 764.8,265.5C769.2,264.9 773.5,263.3 777.9,264.2C782.3,265.1 786.3,268.3 791.1,270.7C795.9,273.1 802.0,276.9 806.8,278.6C811.6,280.3 815.6,281.1 820.0,280.7C824.4,280.3 828.3,279.0 833.1,276.0C837.9,273.0 843.6,266.4 848.9,262.9C854.1,259.4 859.4,256.8 864.6,255.0C869.9,253.2 875.1,253.4 880.4,252.3C885.7,251.2 891.4,249.8 896.2,248.4C901.0,247.0 905.4,244.8 909.3,243.9C913.2,243.0 916.3,242.7 919.8,243.2C923.3,243.7 926.4,244.7 930.3,247.1C934.2,249.5 939.5,255.1 943.4,257.6C947.3,260.1 950.8,261.3 953.9,262.3C957.0,263.3 958.8,262.1 962.0,263.5C965.2,264.9 968.6,267.9 973.1,270.6C977.6,273.3 984.1,279.1 988.9,279.8C993.7,280.5 997.6,276.8 1002.0,274.6C1006.4,272.4 1010.8,267.4 1015.2,266.7C1019.6,266.0 1024.4,269.3 1028.3,270.6C1032.2,271.9 1034.4,274.4 1038.8,274.6C1043.2,274.8 1050.2,271.7 1054.6,271.9C1059.0,272.1 1061.2,272.8 1065.1,275.9C1069.0,279.0 1073.8,286.8 1078.2,290.3C1082.6,293.8 1086.5,295.5 1091.3,296.9C1096.1,298.3 1101.8,298.0 1107.1,298.7C1112.4,299.4 1118.1,300.4 1122.9,300.8C1127.7,301.2 1132.1,300.1 1136.0,301.4C1139.9,302.7 1143.0,304.8 1146.5,308.7C1150.0,312.6 1153.5,319.7 1157.0,324.5C1160.5,329.3 1163.6,334.3 1167.5,337.6C1171.4,340.9 1176.2,342.2 1180.6,344.2C1185.0,346.2 1189.4,346.6 1193.8,349.4C1198.2,352.2 1202.3,357.5 1206.9,361.2C1211.5,364.9 1216.9,369.3 1221.6,371.8C1226.2,374.3 1230.0,374.2 1234.8,376.3C1239.6,378.4 1244.8,382.4 1250.5,384.2C1256.2,385.9 1263.6,384.4 1268.9,386.8C1274.2,389.2 1277.7,394.7 1282.1,398.6C1286.5,402.5 1291.3,407.8 1295.2,410.4C1299.1,413.0 1300.9,415.0 1305.7,414.4C1310.5,413.8 1318.4,407.9 1324.1,407.0C1329.8,406.1 1334.5,408.3 1339.8,409.1C1345.0,409.9 1350.3,412.0 1355.6,411.8C1360.9,411.6 1366.2,409.8 1371.4,407.8C1376.7,405.8 1381.4,402.4 1387.1,399.9C1392.8,397.4 1399.8,393.4 1405.5,392.8C1411.2,392.2 1416.5,396.4 1421.3,396.0C1426.1,395.6 1430.5,392.4 1434.4,390.7C1438.3,388.9 1441.4,385.1 1444.9,385.5C1448.4,385.9 1451.7,390.5 1455.4,393.4C1459.1,396.2 1463.7,403.5 1467.2,402.6C1470.7,401.7 1473.8,394.0 1476.4,388.1C1479.0,382.2 1481.2,373.5 1483.0,367.1C1484.8,360.8 1486.3,352.9 1487.0,350.0" fill="none" stroke="#156cb8" stroke-width="3.7" stroke-linejoin="round"/>
<path clip-path="url(#ax2)" d="M79.0,309.5C79.5,311.0 80.9,315.0 82.3,318.5C83.7,322.0 85.7,327.1 87.3,330.5C88.9,333.9 90.3,336.5 92.1,338.9C93.9,341.3 95.9,343.4 97.9,344.7C99.9,346.0 102.2,346.3 104.2,346.8C106.2,347.3 107.8,346.9 110.0,347.6C112.2,348.3 115.1,349.5 117.7,350.8C120.3,352.1 123.0,354.3 125.7,355.4C128.4,356.5 131.0,357.8 133.7,357.2C136.4,356.6 139.1,354.4 141.8,352.0C144.5,349.6 147.1,345.6 149.8,342.7C152.5,339.8 155.1,336.6 157.8,334.7C160.5,332.8 163.1,331.5 165.8,331.4C168.5,331.3 171.1,333.1 173.8,334.1C176.5,335.1 179.4,337.1 181.8,337.4C184.2,337.7 186.3,336.8 188.5,336.0C190.7,335.2 192.8,334.5 195.2,332.7C197.6,330.9 200.5,327.4 203.2,325.4C205.9,323.4 208.5,321.6 211.2,320.7C213.9,319.8 216.3,319.7 219.2,320.0C222.1,320.3 225.2,322.0 228.5,322.7C231.8,323.4 235.8,324.9 239.2,324.0C242.5,323.1 245.5,320.3 248.6,317.4C251.7,314.5 254.8,310.0 257.9,306.7C261.0,303.4 264.6,299.5 267.3,297.4C270.0,295.3 270.9,294.3 273.9,294.0C276.8,293.7 281.6,294.9 285.0,295.5C288.4,296.1 291.1,297.8 294.2,297.5C297.3,297.2 300.8,295.7 303.7,293.5C306.6,291.3 308.6,287.7 311.5,284.1C314.4,280.5 317.6,276.3 321.0,272.0C324.4,267.7 328.3,263.2 332.0,258.5C335.7,253.8 339.7,248.2 343.1,243.5C346.5,238.8 349.9,234.6 352.5,230.5C355.1,226.4 356.7,222.6 359.0,219.0C361.3,215.4 363.4,212.5 366.5,208.8C369.6,205.1 374.7,200.5 377.9,197.0C381.1,193.5 383.2,191.0 385.8,187.9C388.4,184.8 391.1,181.4 393.7,178.4C396.3,175.4 398.8,171.6 401.5,169.7C404.2,167.8 407.3,166.8 410.2,167.0C413.1,167.2 415.7,169.6 418.9,170.9C422.1,172.2 426.3,175.5 429.5,175.0C432.7,174.5 435.3,171.9 438.3,168.1C441.3,164.3 444.4,158.0 447.5,152.3C450.6,146.6 453.6,138.6 456.7,134.0C459.8,129.4 462.8,126.8 465.9,124.8C468.9,122.8 471.3,122.2 475.0,122.1C478.7,122.0 483.8,124.0 488.2,124.0C492.6,124.0 496.5,122.7 501.3,122.1C506.1,121.5 511.7,120.7 517.0,120.3C522.3,119.9 527.6,121.0 532.9,119.5C538.2,118.0 543.4,114.0 548.6,111.6C553.9,109.2 560.0,105.4 564.4,105.0C568.8,104.6 571.0,105.7 574.9,109.0C578.8,112.3 583.9,120.5 588.0,124.8C592.1,129.1 595.8,133.8 599.8,134.5C603.8,135.2 607.5,130.6 611.7,128.7C615.9,126.8 620.9,123.1 624.8,122.9C628.7,122.7 631.4,123.4 635.3,127.4C639.2,131.4 644.4,141.6 648.4,147.1C652.4,152.6 655.4,156.7 659.0,160.2C662.6,163.7 665.9,166.0 670.0,168.1C674.1,170.2 679.4,171.4 683.7,172.6C688.0,173.8 692.0,173.5 695.7,175.1C699.4,176.7 702.8,178.9 705.9,182.0C709.0,185.1 711.6,190.2 714.5,193.9C717.4,197.6 719.9,201.9 723.0,204.2C726.1,206.5 729.8,207.0 733.3,207.7C736.8,208.4 740.3,206.4 743.8,208.2C747.3,209.9 750.8,214.1 754.3,218.2C757.8,222.3 761.3,228.5 764.8,232.7C768.3,236.9 771.8,241.7 775.3,243.2C778.8,244.7 782.3,242.6 785.8,241.8C789.3,241.1 792.8,238.2 796.3,238.7C799.8,239.1 803.3,241.8 806.8,244.5C810.3,247.2 814.3,252.8 817.4,255.0C820.5,257.2 822.2,258.5 825.2,257.6C828.2,256.7 831.8,252.5 835.7,249.7C839.7,246.8 844.5,242.0 848.9,240.5C853.3,239.0 857.6,240.8 862.0,240.5C866.4,240.2 870.7,239.4 875.1,238.7C879.5,238.0 883.9,235.8 888.3,236.1C892.7,236.4 897.0,238.6 901.4,240.5C905.8,242.4 910.1,245.6 914.5,247.6C918.9,249.6 923.8,250.2 927.7,252.3C931.7,254.4 934.7,256.2 938.2,260.2C941.7,264.1 945.6,272.1 948.7,276.0C951.8,279.9 953.9,282.8 956.6,283.9C959.3,285.0 962.7,283.4 965.0,282.5C967.3,281.6 967.0,280.5 970.5,278.5C974.0,276.5 981.5,271.2 986.3,270.6C991.1,270.0 995.0,273.3 999.4,274.6C1003.8,275.9 1008.1,277.0 1012.5,278.5C1016.9,280.0 1021.3,280.9 1025.7,283.8C1030.1,286.7 1034.4,291.8 1038.8,295.6C1043.2,299.5 1047.5,304.9 1051.9,306.9C1056.3,308.9 1060.7,306.2 1065.1,307.4C1069.5,308.6 1073.8,310.7 1078.2,314.0C1082.6,317.3 1087.4,324.0 1091.3,327.1C1095.2,330.2 1097.4,332.4 1101.8,332.4C1106.2,332.4 1112.8,326.5 1117.6,327.1C1122.4,327.8 1126.3,332.8 1130.7,336.3C1135.1,339.8 1139.1,345.8 1143.9,348.1C1148.7,350.4 1154.8,348.2 1159.6,350.2C1164.4,352.2 1168.4,356.5 1172.8,359.9C1177.2,363.3 1182.0,368.9 1185.9,370.4C1189.8,371.8 1192.9,369.9 1196.4,368.6C1199.9,367.3 1203.4,363.0 1206.9,362.6C1210.4,362.2 1213.5,364.3 1217.4,366.5C1221.4,368.7 1226.6,374.2 1230.6,375.7C1234.5,377.2 1237.6,376.8 1241.1,375.7C1244.6,374.6 1248.4,369.8 1251.6,369.1C1254.8,368.5 1257.1,370.2 1260.0,371.8C1262.9,373.4 1265.2,376.5 1268.9,378.4C1272.6,380.3 1277.3,382.5 1282.1,383.1C1286.9,383.8 1292.5,381.3 1297.8,382.3C1303.0,383.3 1308.3,387.3 1313.6,388.9C1318.8,390.5 1324.0,391.2 1329.3,392.0C1334.5,392.8 1340.3,391.7 1345.1,393.6C1349.9,395.5 1353.8,398.6 1358.2,403.3C1362.6,408.0 1367.0,416.4 1371.4,421.7C1375.8,427.0 1380.1,433.6 1384.5,434.9C1388.9,436.2 1393.2,431.8 1397.6,429.6C1402.0,427.4 1406.0,422.4 1410.8,421.7C1415.6,420.9 1421.2,425.0 1426.5,425.1C1431.8,425.2 1437.9,421.8 1442.3,422.5C1446.7,423.2 1449.7,426.2 1452.8,429.6C1455.9,433.0 1458.3,439.9 1460.7,442.7C1463.1,445.5 1465.0,447.8 1467.2,446.7C1469.4,445.6 1471.6,443.6 1473.8,436.2C1476.0,428.8 1478.2,413.4 1480.4,402.0C1482.6,390.6 1485.9,373.7 1487.0,368.0" fill="none" stroke="#fff" stroke-opacity="0.5" stroke-width="8" stroke-linejoin="round"/>
<path d="M79.0,309.5C79.5,311.0 80.9,315.0 82.3,318.5C83.7,322.0 85.7,327.1 87.3,330.5C88.9,333.9 90.3,336.5 92.1,338.9C93.9,341.3 95.9,343.4 97.9,344.7C99.9,346.0 102.2,346.3 104.2,346.8C106.2,347.3 107.8,346.9 110.0,347.6C112.2,348.3 115.1,349.5 117.7,350.8C120.3,352.1 123.0,354.3 125.7,355.4C128.4,356.5 131.0,357.8 133.7,357.2C136.4,356.6 139.1,354.4 141.8,352.0C144.5,349.6 147.1,345.6 149.8,342.7C152.5,339.8 155.1,336.6 157.8,334.7C160.5,332.8 163.1,331.5 165.8,331.4C168.5,331.3 171.1,333.1 173.8,334.1C176.5,335.1 179.4,337.1 181.8,337.4C184.2,337.7 186.3,336.8 188.5,336.0C190.7,335.2 192.8,334.5 195.2,332.7C197.6,330.9 200.5,327.4 203.2,325.4C205.9,323.4 208.5,321.6 211.2,320.7C213.9,319.8 216.3,319.7 219.2,320.0C222.1,320.3 225.2,322.0 228.5,322.7C231.8,323.4 235.8,324.9 239.2,324.0C242.5,323.1 245.5,320.3 248.6,317.4C251.7,314.5 254.8,310.0 257.9,306.7C261.0,303.4 264.6,299.5 267.3,297.4C270.0,295.3 270.9,294.3 273.9,294.0C276.8,293.7 281.6,294.9 285.0,295.5C288.4,296.1 291.1,297.8 294.2,297.5C297.3,297.2 300.8,295.7 303.7,293.5C306.6,291.3 308.6,287.7 311.5,284.1C314.4,280.5 317.6,276.3 321.0,272.0C324.4,267.7 328.3,263.2 332.0,258.5C335.7,253.8 339.7,248.2 343.1,243.5C346.5,238.8 349.9,234.6 352.5,230.5C355.1,226.4 356.7,222.6 359.0,219.0C361.3,215.4 363.4,212.5 366.5,208.8C369.6,205.1 374.7,200.5 377.9,197.0C381.1,193.5 383.2,191.0 385.8,187.9C388.4,184.8 391.1,181.4 393.7,178.4C396.3,175.4 398.8,171.6 401.5,169.7C404.2,167.8 407.3,166.8 410.2,167.0C413.1,167.2 415.7,169.6 418.9,170.9C422.1,172.2 426.3,175.5 429.5,175.0C432.7,174.5 435.3,171.9 438.3,168.1C441.3,164.3 444.4,158.0 447.5,152.3C450.6,146.6 453.6,138.6 456.7,134.0C459.8,129.4 462.8,126.8 465.9,124.8C468.9,122.8 471.3,122.2 475.0,122.1C478.7,122.0 483.8,124.0 488.2,124.0C492.6,124.0 496.5,122.7 501.3,122.1C506.1,121.5 511.7,120.7 517.0,120.3C522.3,119.9 527.6,121.0 532.9,119.5C538.2,118.0 543.4,114.0 548.6,111.6C553.9,109.2 560.0,105.4 564.4,105.0C568.8,104.6 571.0,105.7 574.9,109.0C578.8,112.3 583.9,120.5 588.0,124.8C592.1,129.1 595.8,133.8 599.8,134.5C603.8,135.2 607.5,130.6 611.7,128.7C615.9,126.8 620.9,123.1 624.8,122.9C628.7,122.7 631.4,123.4 635.3,127.4C639.2,131.4 644.4,141.6 648.4,147.1C652.4,152.6 655.4,156.7 659.0,160.2C662.6,163.7 665.9,166.0 670.0,168.1C674.1,170.2 679.4,171.4 683.7,172.6C688.0,173.8 692.0,173.5 695.7,175.1C699.4,176.7 702.8,178.9 705.9,182.0C709.0,185.1 711.6,190.2 714.5,193.9C717.4,197.6 719.9,201.9 723.0,204.2C726.1,206.5 729.8,207.0 733.3,207.7C736.8,208.4 740.3,206.4 743.8,208.2C747.3,209.9 750.8,214.1 754.3,218.2C757.8,222.3 761.3,228.5 764.8,232.7C768.3,236.9 771.8,241.7 775.3,243.2C778.8,244.7 782.3,242.6 785.8,241.8C789.3,241.1 792.8,238.2 796.3,238.7C799.8,239.1 803.3,241.8 806.8,244.5C810.3,247.2 814.3,252.8 817.4,255.0C820.5,257.2 822.2,258.5 825.2,257.6C828.2,256.7 831.8,252.5 835.7,249.7C839.7,246.8 844.5,242.0 848.9,240.5C853.3,239.0 857.6,240.8 862.0,240.5C866.4,240.2 870.7,239.4 875.1,238.7C879.5,238.0 883.9,235.8 888.3,236.1C892.7,236.4 897.0,238.6 901.4,240.5C905.8,242.4 910.1,245.6 914.5,247.6C918.9,249.6 923.8,250.2 927.7,252.3C931.7,254.4 934.7,256.2 938.2,260.2C941.7,264.1 945.6,272.1 948.7,276.0C951.8,279.9 953.9,282.8 956.6,283.9C959.3,285.0 962.7,283.4 965.0,282.5C967.3,281.6 967.0,280.5 970.5,278.5C974.0,276.5 981.5,271.2 986.3,270.6C991.1,270.0 995.0,273.3 999.4,274.6C1003.8,275.9 1008.1,277.0 1012.5,278.5C1016.9,280.0 1021.3,280.9 1025.7,283.8C1030.1,286.7 1034.4,291.8 1038.8,295.6C1043.2,299.5 1047.5,304.9 1051.9,306.9C1056.3,308.9 1060.7,306.2 1065.1,307.4C1069.5,308.6 1073.8,310.7 1078.2,314.0C1082.6,317.3 1087.4,324.0 1091.3,327.1C1095.2,330.2 1097.4,332.4 1101.8,332.4C1106.2,332.4 1112.8,326.5 1117.6,327.1C1122.4,327.8 1126.3,332.8 1130.7,336.3C1135.1,339.8 1139.1,345.8 1143.9,348.1C1148.7,350.4 1154.8,348.2 1159.6,350.2C1164.4,352.2 1168.4,356.5 1172.8,359.9C1177.2,363.3 1182.0,368.9 1185.9,370.4C1189.8,371.8 1192.9,369.9 1196.4,368.6C1199.9,367.3 1203.4,363.0 1206.9,362.6C1210.4,362.2 1213.5,364.3 1217.4,366.5C1221.4,368.7 1226.6,374.2 1230.6,375.7C1234.5,377.2 1237.6,376.8 1241.1,375.7C1244.6,374.6 1248.4,369.8 1251.6,369.1C1254.8,368.5 1257.1,370.2 1260.0,371.8C1262.9,373.4 1265.2,376.5 1268.9,378.4C1272.6,380.3 1277.3,382.5 1282.1,383.1C1286.9,383.8 1292.5,381.3 1297.8,382.3C1303.0,383.3 1308.3,387.3 1313.6,388.9C1318.8,390.5 1324.0,391.2 1329.3,392.0C1334.5,392.8 1340.3,391.7 1345.1,393.6C1349.9,395.5 1353.8,398.6 1358.2,403.3C1362.6,408.0 1367.0,416.4 1371.4,421.7C1375.8,427.0 1380.1,433.6 1384.5,434.9C1388.9,436.2 1393.2,431.8 1397.6,429.6C1402.0,427.4 1406.0,422.4 1410.8,421.7C1415.6,420.9 1421.2,425.0 1426.5,425.1C1431.8,425.2 1437.9,421.8 1442.3,422.5C1446.7,423.2 1449.7,426.2 1452.8,429.6C1455.9,433.0 1458.3,439.9 1460.7,442.7C1463.1,445.5 1465.0,447.8 1467.2,446.7C1469.4,445.6 1471.6,443.6 1473.8,436.2C1476.0,428.8 1478.2,413.4 1480.4,402.0C1482.6,390.6 1485.9,373.7 1487.0,368.0" fill="none" stroke="#f65f22" stroke-width="3.7" stroke-linejoin="round"/>

<g fill="#151515" stroke="#151515" stroke-width="0.6" font-size="28">
<text x="187.0" y="714" text-anchor="middle">0</text>
<text x="403.7" y="714" text-anchor="middle">0.5</text>
<text x="620.3" y="714" text-anchor="middle">1</text>
<text x="837.0" y="714" text-anchor="middle">1.5</text>
<text x="1053.7" y="714" text-anchor="middle">2</text>
<text x="1270.3" y="714" text-anchor="middle">2.5</text>
<text x="1487.0" y="714" text-anchor="middle">3</text>
<text x="72" y="113.0" text-anchor="end">10</text>
<text x="72" y="233.0" text-anchor="end">5</text>
<text x="72" y="353.0" text-anchor="end">0</text>
<text x="72" y="473.0" text-anchor="end">-5</text>
<text x="72" y="593.0" text-anchor="end">-10</text>
<text x="783" y="748.5" text-anchor="middle" font-size="29.7">Time (s)</text>
<text transform="translate(26,342.2) rotate(-90)" text-anchor="middle" font-size="29.7">Pupil diameter vs baseline (pixels)</text>
</g>
<rect x="1193" y="8" width="292" height="135" fill="#fff"/>
<rect x="1200.8" y="19" width="274" height="119" rx="2.5" fill="#fff" stroke="#8e8e8e" stroke-width="3"/>
<line x1="1209.5" x2="1287" y1="50.6" y2="50.6" stroke="#2379c4" stroke-width="5.8"/>
<line x1="1209.5" x2="1287" y1="105.2" y2="105.2" stroke="#ff6c33" stroke-width="5.8"/>
<g font-weight="bold" font-size="30" fill="#000" stroke="#000" stroke-width="1.2">
<text transform="translate(1305,61.6) scale(0.93,1)">MCS</text>
<text transform="translate(1305,112.6) scale(0.93,1)">VS/UWS</text>
</g>
</g>
</svg>
</body></html>
